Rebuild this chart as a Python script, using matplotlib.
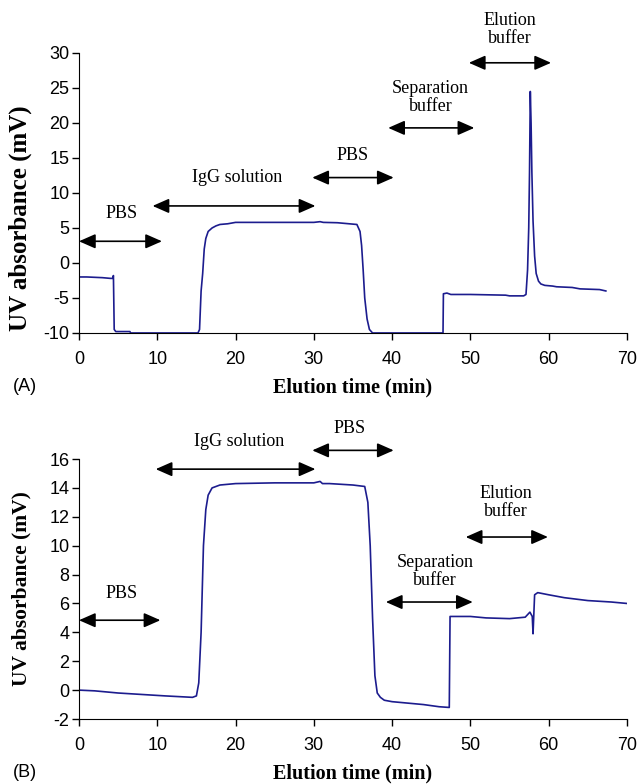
import matplotlib
matplotlib.use("Agg")
import matplotlib.pyplot as plt

plt.rcParams["axes.unicode_minus"] = False

# ---- panel A trace (elution time in min, UV absorbance in mV) ----
time_a = [0, 1, 2, 3, 4, 4.3, 4.4, 4.5, 4.7, 5, 6.5, 6.6, 11, 15.2, 15.4, 15.6,
          15.8, 16.0, 16.2, 16.5, 17, 17.5, 18, 19, 20, 25, 30, 30.8, 31.2, 33,
          34.5, 35.5, 35.9, 36.1, 36.3, 36.5, 36.8, 37.1, 37.5, 38, 46.5, 46.55,
          47, 47.5, 50, 54.5, 55, 56.8, 57.1, 57.3, 57.45, 57.55, 57.65, 57.75,
          57.85, 58.0, 58.2, 58.4, 58.7, 59, 59.5, 60.5, 61, 63, 64, 66.5, 67.3]
uv_a = [-2.0, -2.0, -2.05, -2.1, -2.2, -2.2, -1.8, -9.5, -9.8, -9.8, -9.8, -10,
        -10, -10, -9.5, -4, -1.5, 2, 3.5, 4.5, 5.0, 5.3, 5.5, 5.6, 5.8, 5.8,
        5.8, 5.9, 5.8, 5.75, 5.6, 5.5, 4.5, 2.5, -1, -5, -8, -9.5, -10, -10,
        -10, -4.4, -4.3, -4.5, -4.5, -4.6, -4.7, -4.7, -4.5, -1, 5, 13, 24.5,
        20, 13, 6, 1, -1.5, -2.6, -3.0, -3.2, -3.3, -3.4, -3.5, -3.7, -3.8, -4.0]

# ---- panel B trace ----
time_b = [0, 2, 5, 8, 11, 14.5, 15.0, 15.3, 15.6, 15.9, 16.2, 16.5, 17, 18, 20,
          25, 30, 30.8, 31.1, 32, 35, 36.5, 36.9, 37.2, 37.5, 37.8, 38.1, 38.5,
          39, 40, 42, 44, 46, 47.3, 47.4, 48, 50, 52, 55, 57, 57.6, 57.9, 58.0,
          58.2, 58.6, 60, 62, 65, 68, 70, 70.3]
uv_b = [0.0, -0.05, -0.2, -0.3, -0.4, -0.5, -0.4, 0.5, 4, 10, 12.5, 13.5, 14.0,
        14.2, 14.3, 14.35, 14.35, 14.45, 14.3, 14.3, 14.2, 14.1, 13, 10, 5, 1,
        -0.2, -0.5, -0.7, -0.8, -0.9, -1.0, -1.15, -1.2, 5.1, 5.1, 5.1, 5.0,
        4.95, 5.05, 5.4, 5.1, 3.9, 6.6, 6.75, 6.6, 6.4, 6.2, 6.1, 6.0, 5.95]

# ---- phase annotations: (label, x_start, x_end, arrow_y, text_x, text_y) ----
phases_a = [("PBS", 0, 10.6, 3.1, 5.5, 7.0),
            ("IgG solution", 9.4, 30.2, 8.15, 20.2, 12.2),
            ("PBS", 29.8, 40.2, 12.2, 34.9, 15.3),
            ("Separation\nbuffer", 39.5, 50.5, 19.3, 44.9, 23.6),
            ("Elution\nbuffer", 49.8, 60.3, 28.6, 55.0, 33.4)]
phases_b = [("PBS", 0, 10.4, 4.84, 5.4, 6.7),
            ("IgG solution", 9.8, 30.2, 15.3, 20.4, 17.2),
            ("PBS", 29.8, 40.2, 16.6, 34.6, 18.1),
            ("Separation\nbuffer", 39.2, 50.3, 6.1, 45.5, 8.2),
            ("Elution\nbuffer", 49.4, 59.9, 10.6, 54.5, 13.0)]

line_color = "#1c1c8e"
serif = "Liberation Serif"
sans = "Liberation Sans"

fig = plt.figure(figsize=(6.39, 7.84), dpi=100)


def draw_panel(ax, t, y, ylim, yticks, phases, tag, xlab_y, ylab_y, ylab_size, tag_y):
    ax.plot(t, y, color=line_color, lw=1.2)
    ax.set_xlim(0, 70)
    ax.set_ylim(*ylim)
    ax.set_xticks(range(0, 71, 10))
    ax.set_yticks(yticks)
    for s in ("top", "right"):
        ax.spines[s].set_visible(False)
    ax.tick_params(direction="out", length=5, width=1, labelsize=13)
    ax.tick_params(axis="x", pad=8)
    ax.tick_params(axis="y", pad=2)
    for lab in ax.get_xticklabels() + ax.get_yticklabels():
        lab.set_fontfamily(sans)
    ax.set_xlabel("Elution time (min)", fontfamily=serif, fontweight="bold",
                  fontsize=14.5)
    ax.xaxis.set_label_coords(0.5, xlab_y)
    ax.set_ylabel("UV absorbance (mV)", fontfamily=serif, fontweight="bold",
                  fontsize=ylab_size)
    ax.yaxis.set_label_coords(-0.086, ylab_y)
    for label, x0, x1, ya, tx, ty in phases:
        ax.annotate("", xy=(x0, ya), xytext=(x1, ya),
                    arrowprops=dict(arrowstyle="<|-|>,head_length=0.5,head_width=0.22",
                                    color="black", lw=1.2, mutation_scale=20,
                                    shrinkA=0, shrinkB=0),
                    annotation_clip=False)
        ax.text(tx, ty, label, ha="center", va="center", fontfamily=serif,
                fontsize=13, linespacing=1.1, clip_on=False)
    ax.text(-0.12, tag_y, tag, transform=ax.transAxes, fontfamily=sans,
            fontsize=13, ha="left", va="center")


ax_a = fig.add_axes([0.1236, 0.5753, 0.8576, 0.3571])
draw_panel(ax_a, time_a, uv_a, (-10, 30), range(-10, 31, 5), phases_a, "(A)",
           -0.159, 0.41, 18, -0.193)

ax_b = fig.add_axes([0.1236, 0.0829, 0.8576, 0.3316])
draw_panel(ax_b, time_b, uv_b, (-2, 16), range(-2, 17, 2), phases_b, "(B)",
           -0.171, 0.5, 15.5, -0.204)

fig.savefig("out.png", dpi=100)
